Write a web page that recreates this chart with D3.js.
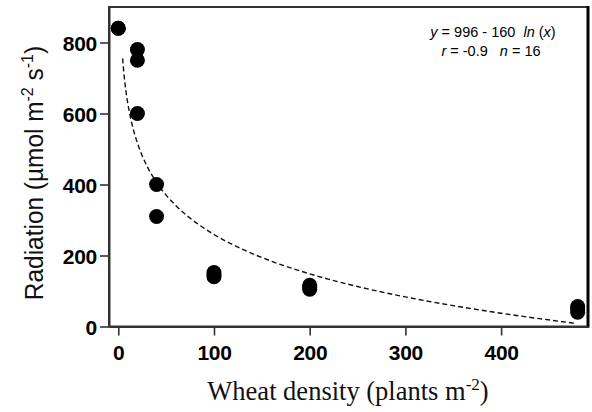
<!DOCTYPE html>
<html>
<head>
<meta charset="utf-8">
<script src="https://cdn.jsdelivr.net/npm/d3@7"></script>
<style>
  body { margin: 0; background: #fff; }
  svg { display: block; }
  .tick-label { font-family: "Liberation Sans", Arial, sans-serif; font-weight: bold; font-size: 21px; letter-spacing: -0.3px; }
  .ann text { white-space: pre; }
</style>
</head>
<body>
<script>
// wheat density (plants m-2) and radiation (umol m-2 s-1)
var density   = [0, 0, 20, 20, 20, 40, 40, 100, 100, 100, 200, 200, 200, 480, 480, 480];
var radiation = [840, 840, 780, 750, 600, 400, 310, 152, 140, 145, 116, 105, 110, 56, 40, 48];

var xTicks = [0, 100, 200, 300, 400];
var yTicks = [0, 200, 400, 600, 800];

// fitted curve y = a - b ln(x), as printed on the chart
var fitA = 996, fitB = 160;
var fitX = [4.5, 6, 8, 10, 13, 16, 20, 25, 30, 40, 50, 60, 80, 100, 130, 160, 200, 250, 300, 350, 400, 440, 477];

var width = 592, height = 412;
var box = { left: 109, right: 588, top: 7, bottom: 326.5 };

var svg = d3.select('body').append('svg')
  .attr('width', width)
  .attr('height', height);

var x = d3.scaleLinear().domain([-9.7, 490.8]).range([box.left, box.right]);
var y = d3.scaleLinear().domain([0, 900]).range([box.bottom, box.top]);

// frame
svg.append('rect')
  .attr('x', box.left).attr('y', box.top)
  .attr('width', box.right - box.left).attr('height', box.bottom - box.top)
  .attr('fill', 'none').attr('stroke', '#333').attr('stroke-width', 2);
svg.append('line')
  .attr('x1', box.right).attr('x2', box.right)
  .attr('y1', box.top - 1).attr('y2', box.bottom + 1)
  .attr('stroke', '#000').attr('stroke-width', 3);

// axes
var xAxis = svg.append('g')
  .attr('transform', 'translate(0,' + box.bottom + ')')
  .call(d3.axisBottom(x).tickValues(xTicks).tickSize(9).tickPadding(10).tickSizeOuter(0));
var yAxis = svg.append('g')
  .attr('transform', 'translate(' + box.left + ',0)')
  .call(d3.axisLeft(y).tickValues(yTicks).tickSize(9).tickPadding(3).tickSizeOuter(0));

[xAxis, yAxis].forEach(function(ax) {
  ax.select('.domain').attr('stroke', '#333').attr('stroke-width', 2);
  ax.selectAll('.tick line').attr('stroke', '#333').attr('stroke-width', 1.6);
  ax.selectAll('.tick text').attr('class', 'tick-label').attr('fill', '#000');
});
yAxis.selectAll('.tick text').attr('dy', '0.36em');

// fitted curve
var line = d3.line()
  .x(function(d) { return x(d); })
  .y(function(d) { return y(fitA - fitB * Math.log(d)); })
  .curve(d3.curveMonotoneX);

svg.append('path')
  .datum(fitX)
  .attr('d', line)
  .attr('fill', 'none')
  .attr('stroke', '#111')
  .attr('stroke-width', 1.4)
  .attr('stroke-dasharray', '5,3');

// points
svg.selectAll('.dot')
  .data(density)
  .enter().append('circle')
  .attr('class', 'dot')
  .attr('cx', function(d) { return x(d); })
  .attr('cy', function(d, i) { return y(radiation[i]); })
  .attr('r', 7.5)
  .attr('fill', '#000');

// annotation
var ann = svg.append('g')
  .attr('class', 'ann')
  .style('font-family', '"Liberation Sans", Arial, sans-serif')
  .style('font-size', '14.5px')
  .attr('text-anchor', 'middle');
var a1 = ann.append('text').attr('x', 493).attr('y', 37);
a1.append('tspan').style('font-style', 'italic').text('y');
a1.append('tspan').text(' = 996 - 160  ');
a1.append('tspan').style('font-style', 'italic').text('ln');
a1.append('tspan').text(' (');
a1.append('tspan').style('font-style', 'italic').text('x');
a1.append('tspan').text(')');
var a2 = ann.append('text').attr('x', 491).attr('y', 56);
a2.append('tspan').style('font-style', 'italic').text('r');
a2.append('tspan').text(' = -0.9   ');
a2.append('tspan').style('font-style', 'italic').text('n');
a2.append('tspan').text(' = 16');

// axis titles
var xt = svg.append('text')
  .attr('x', 348).attr('y', 400)
  .attr('text-anchor', 'middle')
  .style('font-family', '"Liberation Serif", "Times New Roman", serif')
  .style('font-size', '26.5px')
  .attr('fill', '#111');
xt.append('tspan').text('Wheat density (plants m');
xt.append('tspan').attr('dy', -10).style('font-size', '17px').text('-2');
xt.append('tspan').attr('dy', 10).text(')');

var yt = svg.append('text')
  .attr('transform', 'translate(43,173) rotate(-90) scale(0.94,1)')
  .attr('text-anchor', 'middle')
  .style('font-family', '"Liberation Sans", Arial, sans-serif')
  .style('font-size', '26px')
  .attr('fill', '#111');
yt.append('tspan').text('Radiation (\u00b5mol m');
yt.append('tspan').attr('dy', -10).style('font-size', '17px').text('-2');
yt.append('tspan').attr('dy', 10).text(' s');
yt.append('tspan').attr('dy', -10).style('font-size', '17px').text('-1');
yt.append('tspan').attr('dy', 10).text(')');
</script>
</body>
</html>
